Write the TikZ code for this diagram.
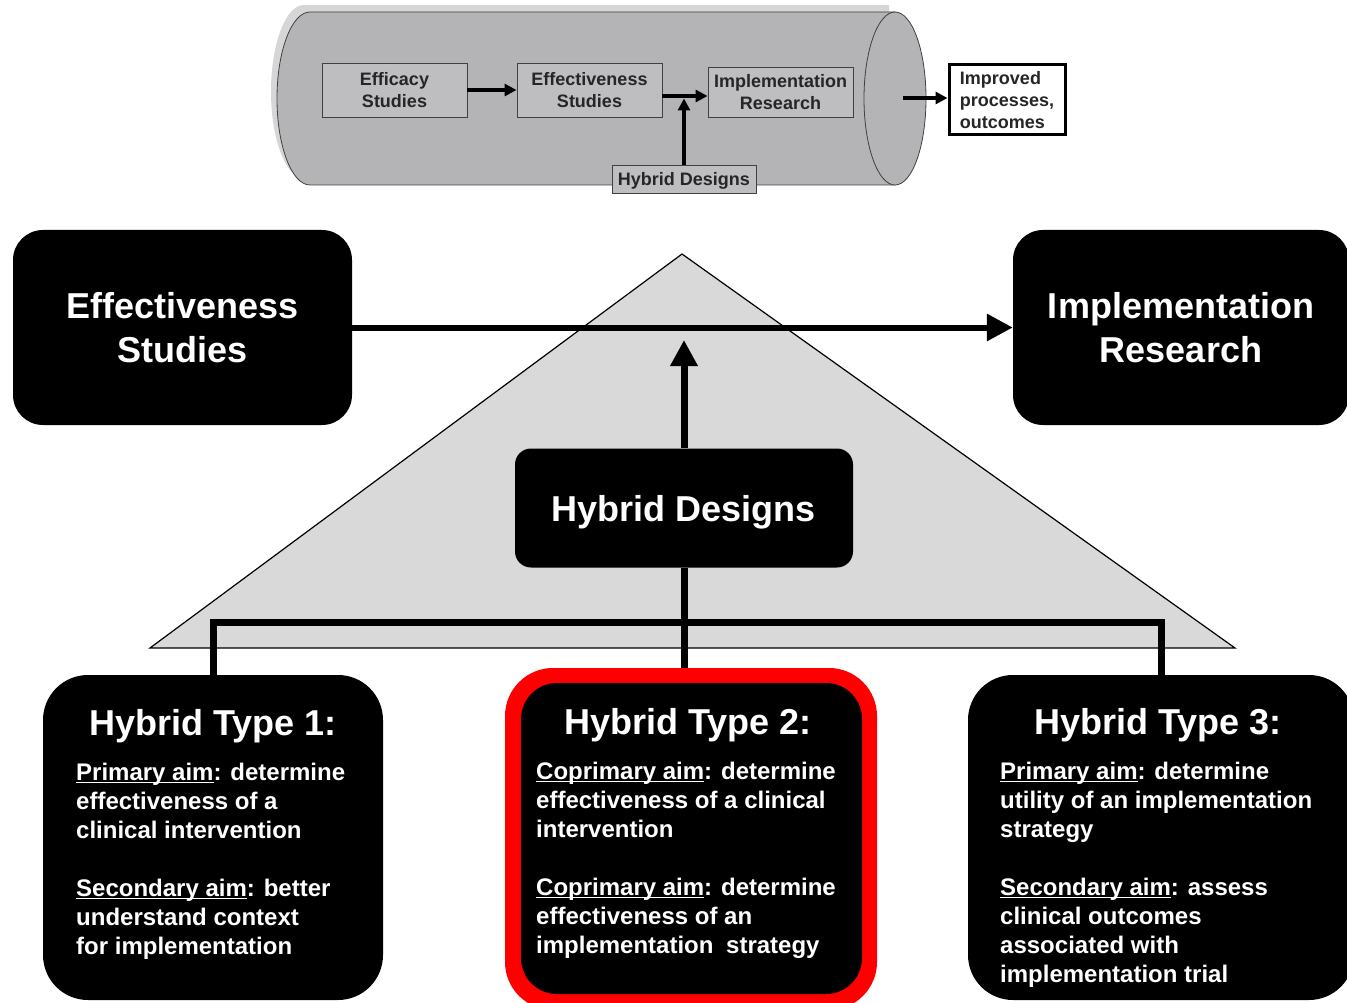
\documentclass[tikz,border=0pt]{standalone}
\usepackage{fontspec}
\setmainfont{Liberation Sans}
\usetikzlibrary{arrows.meta}

\definecolor{cyl}{RGB}{180,180,182}
\definecolor{cylshade}{RGB}{214,214,214}
\definecolor{stage}{RGB}{190,190,192}
\definecolor{tri}{RGB}{217,217,217}
\definecolor{hired}{RGB}{255,0,0}

% underlined aim label, rule crossing the descenders
\newcommand\aim[1]{\setbox0\hbox{#1}\rlap{\rule[-2.6pt]{\wd0}{1.6pt}}#1}

\tikzset{
  stagebox/.style={draw=black!75, line width=0.9pt, fill=stage, align=center,
    inner sep=0pt, font=\fontsize{18}{22}\selectfont\bfseries, text=black!85},
  blackbox/.style={fill=black, rounded corners=30pt, text=white, align=center,
    font=\fontsize{36}{44}\selectfont\bfseries, inner sep=0pt},
  typebox/.style={fill=black, rounded corners=45pt, inner sep=0pt},
  typetitle/.style={text=white, font=\fontsize{36}{44}\selectfont\bfseries, inner sep=0pt, anchor=base},
  typebody/.style={text=white, font=\fontsize{24}{29}\selectfont\bfseries, align=left,
    inner sep=0pt, anchor=north west},
  thinarrow/.style={line width=3.3pt, -{Triangle[length=12pt,width=12pt]}},
  bigarrow/.style={line width=6pt, -{Triangle[length=26pt,width=26pt]}},
  bar/.style={line width=7pt, line join=miter},
}

\begin{document}
\begin{tikzpicture}[x=1pt,y=-1pt]
\useasboundingbox (0,0) rectangle (1347,1003);
\clip (0,0) rectangle (1347,1003);

% ---- research pipeline cylinder ----
\fill[cylshade] (304,5) -- (889,5) -- (889,178) -- (304,178)
  arc[start angle=90,end angle=270,x radius=33,y radius=86.5] -- cycle;
\draw[fill=cyl, line width=0.8pt, draw=black!75] (310,12) -- (895,12) -- (895,185) -- (310,185)
  arc[start angle=90,end angle=270,x radius=33,y radius=86.5] -- cycle;
\draw[fill=cyl, line width=0.8pt, draw=black!75] (895,98.5) ellipse[x radius=31,y radius=86.5];

\node[stagebox, minimum width=145pt, minimum height=54pt] (efc) at (394.5,90) {Efficacy\\Studies};
\node[stagebox, minimum width=145pt, minimum height=54pt] (eff) at (589.5,90) {Effectiveness\\Studies};
\node[stagebox, minimum width=145pt, minimum height=50pt] (imp) at (780.5,92) {Implementation\\Research};
\node[stagebox, minimum width=144pt, minimum height=28pt, text depth=0pt] (hyb) at (684,179) {Hybrid Designs};
\node[draw=black, line width=3pt, fill=white, minimum width=116pt, minimum height=70pt,
  align=left, inner sep=0pt, font=\fontsize{18}{22}\selectfont\bfseries, text=black!85]
  (out) at (1007,100) {Improved\\processes,\\outcomes};

\coordinate (j) at (684,96);
\coordinate (jt) at (684,98.5);
\coordinate (cylend) at (903,98);
\draw[thinarrow] (efc.east) -- (eff.west);
\draw[thinarrow] (eff.east |- j) -- (imp.west |- j);
\draw[thinarrow] (hyb.north) -- (jt);
\draw[thinarrow] (cylend) -- (out.west |- cylend);

% ---- hybrid design triangle ----
\draw[fill=tri, line width=1.2pt] (150,648) -- (682,254) -- (1235,648) -- cycle;

\node[blackbox, minimum width=339pt, minimum height=195pt] (es) at (182.5,327.5) {Effectiveness\\Studies};
\node[blackbox, minimum width=336pt, minimum height=195pt] (ir) at (1181,327.5) {Implementation\\Research};
\node[blackbox, rounded corners=16pt, minimum width=338pt, minimum height=119pt, text depth=0pt] (hd) at (684,508) {Hybrid Designs};

% ---- the three hybrid types ----
\node[typebox, minimum width=340pt, minimum height=325pt] (t1) at (213,837.5) {};
\node[fill=hired, rounded corners=48pt, inner sep=0pt, minimum width=372pt, minimum height=342pt] (t2) at (691,839) {};
\node[typebox, rounded corners=36pt, minimum width=341pt, minimum height=311pt] (t2in) at (691.5,838.5) {};
\node[typebox, minimum width=386pt, minimum height=325pt] (t3) at (1161,837.5) {};

\node[typetitle] (t1h) at (213,735) {Hybrid Type 1:};
\node[typetitle] (t2h) at (688,734) {Hybrid Type 2:};
\node[typetitle] (t3h) at (1158,734) {Hybrid Type 3:};

\node[typebody] (t1b) at (76,763) {\aim{Primary aim}: determine\\effectiveness of a\\clinical intervention\\[29pt]\aim{Secondary aim}: better\\understand context\\for implementation};
\node[typebody] (t2b) at (536,762) {\aim{Coprimary aim}: determine\\effectiveness of a clinical\\intervention\\[29pt]\aim{Coprimary aim}: determine\\effectiveness of an\\implementation\hspace{6pt} strategy};
\node[typebody] (t3b) at (1000,762) {\aim{Primary aim}: determine\\utility of an implementation\\strategy\\[29pt]\aim{Secondary aim}: assess\\clinical outcomes\\associated with\\implementation trial};

% ---- connectors ----
\coordinate (hdtip) at (684,340);
\coordinate (bary) at (0,622);
\draw[bigarrow] (es.east) -- (ir.west);
\draw[bigarrow, line width=7pt] (hd.north) -- (hdtip);
\draw[bar] (hd.south) -- (hd.south |- t2.north);
\draw[bar] (t1.north) -- (t1.north |- bary) -- (t3.north |- bary) -- (t3.north);
\end{tikzpicture}
\end{document}
